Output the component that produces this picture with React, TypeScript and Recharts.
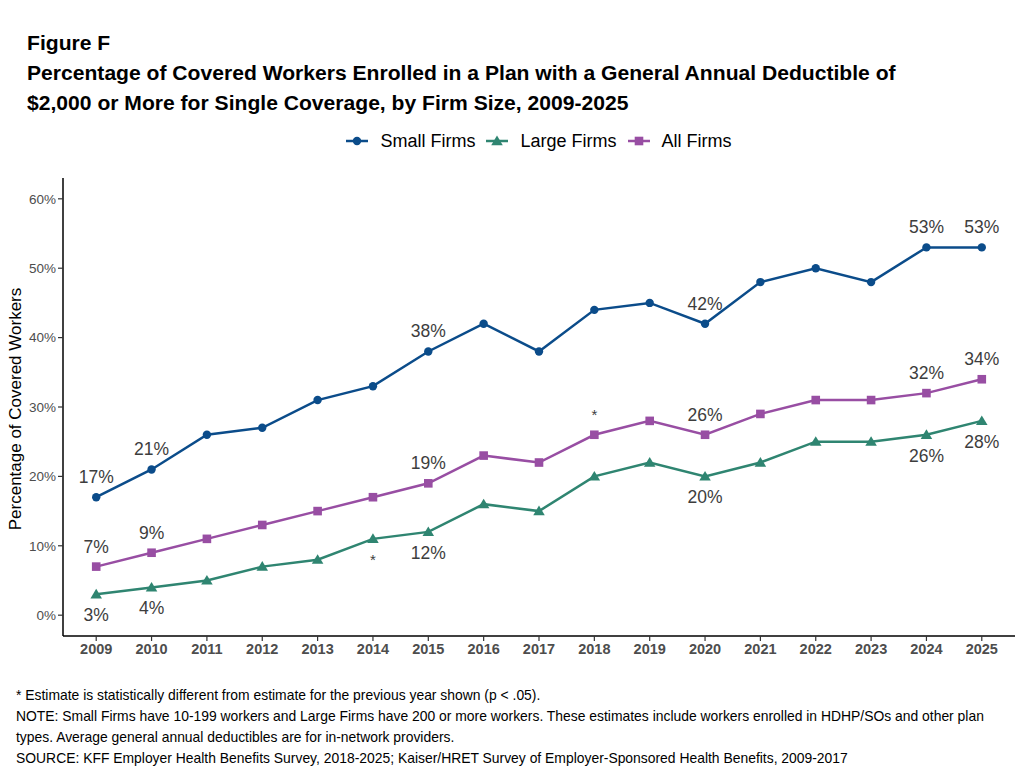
import React from "react";
import { LineChart, Line, XAxis, YAxis, LabelList } from "recharts";

const years = [2009, 2010, 2011, 2012, 2013, 2014, 2015, 2016, 2017, 2018, 2019, 2020, 2021, 2022, 2023, 2024, 2025];
const smallFirms = [17, 21, 26, 27, 31, 33, 38, 42, 38, 44, 45, 42, 48, 50, 48, 53, 53];
const largeFirms = [3, 4, 5, 7, 8, 11, 12, 16, 15, 20, 22, 20, 22, 25, 25, 26, 28];
const allFirms = [7, 9, 11, 13, 15, 17, 19, 23, 22, 26, 28, 26, 29, 31, 31, 32, 34];

const yTicks = [0, 10, 20, 30, 40, 50, 60];

const smallLabelYears = [2009, 2010, 2015, 2020, 2024, 2025];
const largeLabelYears = [2009, 2010, 2015, 2020, 2024, 2025];
const allLabelYears = [2009, 2010, 2015, 2020, 2024, 2025];
const largeStarYears = [2014];
const allStarYears = [2018];

const titleLines = [
  "Figure F",
  "Percentage of Covered Workers Enrolled in a Plan with a General Annual Deductible of",
  "$2,000 or More for Single Coverage, by Firm Size, 2009-2025",
];

const footLines = [
  "* Estimate is statistically different from estimate for the previous year shown (p < .05).",
  "NOTE: Small Firms have 10-199 workers and Large Firms have 200 or more workers. These estimates include workers enrolled in HDHP/SOs and other plan",
  "types. Average general annual deductibles are for in-network providers.",
  "SOURCE: KFF Employer Health Benefits Survey, 2018-2025; Kaiser/HRET Survey of Employer-Sponsored Health Benefits, 2009-2017",
];

const COLORS = { small: "#0b4c8a", large: "#2f8571", all: "#984ea3" };

const data = years.map((year, i) => ({
  year,
  small: smallFirms[i],
  large: largeFirms[i],
  all: allFirms[i],
}));

const series = [
  { key: "small", name: "Small Firms", color: COLORS.small, shape: "circle", labels: smallLabelYears, stars: [] as number[], pos: "above" },
  { key: "large", name: "Large Firms", color: COLORS.large, shape: "triangle", labels: largeLabelYears, stars: largeStarYears, pos: "below" },
  { key: "all", name: "All Firms", color: COLORS.all, shape: "square", labels: allLabelYears, stars: allStarYears, pos: "above" },
];

const FONT = "'Liberation Sans', Arial, sans-serif";

function Marker({ shape, cx, cy, color }: { shape: string; cx: number; cy: number; color: string }) {
  if (shape === "circle") return <circle cx={cx} cy={cy} r={4.2} fill={color} stroke="none" />;
  if (shape === "triangle") {
    const s = 5.5;
    return (
      <polygon
        points={`${cx},${cy - s} ${cx - s * 1.05},${cy + s * 0.75} ${cx + s * 1.05},${cy + s * 0.75}`}
        fill={color}
        stroke="none"
      />
    );
  }
  return <rect x={cx - 4.3} y={cy - 4.3} width={8.6} height={8.6} fill={color} stroke="none" />;
}

const makeDot = (shape: string, color: string) => (props: any) => {
  const { cx, cy, index } = props;
  if (cx == null || cy == null) return <g key={`d-${shape}-${index}`} />;
  return (
    <g key={`d-${shape}-${index}`}>
      <Marker shape={shape} cx={cx} cy={cy} color={color} />
    </g>
  );
};

const makeLabel = (labelYears: number[], starYears: number[], pos: string) => (props: any) => {
  const x = props.x ?? props.viewBox?.x;
  const y = props.y ?? props.viewBox?.y;
  const index = props.index;
  const value = props.value;
  const yr = years[index];
  const dy = pos === "above" ? -20 : 21;
  if (labelYears.includes(yr)) {
    return (
      <text
        key={`l-${index}`}
        x={x}
        y={y + dy}
        textAnchor="middle"
        dominantBaseline="central"
        fontSize={17.5}
        fontFamily={FONT}
        fill="#3d3d3d"
      >
        {`${value}%`}
      </text>
    );
  }
  if (starYears.includes(yr)) {
    return (
      <text
        key={`s-${index}`}
        x={x}
        y={y + dy}
        textAnchor="middle"
        dominantBaseline="central"
        fontSize={15}
        fontFamily={FONT}
        fill="#3d3d3d"
      >
        *
      </text>
    );
  }
  return <g key={`n-${index}`} />;
};

export default function App() {
  return (
    <div style={{ position: "absolute", left: 0, top: 0, width: 1023, height: 770, background: "#fff", fontFamily: FONT }}>
      {titleLines.map((t, i) => (
        <div
          key={i}
          style={{
            position: "absolute",
            left: 27,
            top: 28 + i * 30,
            height: 30,
            lineHeight: "30px",
            fontSize: 21.1,
            fontWeight: "bold",
            color: "#000",
            whiteSpace: "nowrap",
          }}
        >
          {t}
        </div>
      ))}

      <div
        style={{
          position: "absolute",
          left: 0,
          width: 1078,
          top: 128,
          height: 26,
          display: "flex",
          justifyContent: "center",
          alignItems: "center",
          fontSize: 18,
          color: "#000",
        }}
      >
        {series.map((s, i) => (
          <div key={s.key} style={{ display: "flex", alignItems: "center", marginLeft: i === 0 ? 0 : 11 }}>
            <svg width={22} height={14} style={{ display: "block" }}>
              <line x1={0} y1={7} x2={22} y2={7} stroke={s.color} strokeWidth={2.5} />
              <Marker shape={s.shape} cx={11} cy={7} color={s.color} />
            </svg>
            <span style={{ marginLeft: 12, whiteSpace: "nowrap" }}>{s.name}</span>
          </div>
        ))}
      </div>

      <div
        style={{
          position: "absolute",
          left: 16,
          top: 409,
          transform: "translate(-50%, -50%) rotate(-90deg)",
          fontSize: 17,
          color: "#000",
          whiteSpace: "nowrap",
        }}
      >
        Percentage of Covered Workers
      </div>

      <div style={{ position: "absolute", left: 0, top: 0 }}>
        <LineChart
          width={1023}
          height={770}
          data={data}
          margin={{ top: 178, right: 8, bottom: 104, left: 13 }}
        >
          <XAxis
            dataKey="year"
            type="number"
            domain={[2008.4, 2025.6]}
            ticks={years}
            interval={0}
            height={30}
            tickSize={5}
            tickMargin={3}
            axisLine={{ stroke: "#000", strokeWidth: 1.5 }}
            tickLine={{ stroke: "#333", strokeWidth: 1.2 }}
            tick={{ fontSize: 14.5, fontWeight: "bold", fill: "#4d4d4d", fontFamily: FONT }}
          />
          <YAxis
            type="number"
            domain={[-3, 63]}
            ticks={yTicks}
            interval={0}
            width={50}
            tickSize={5}
            tickMargin={2}
            tickFormatter={(v: number) => `${v}%`}
            axisLine={{ stroke: "#000", strokeWidth: 1.5 }}
            tickLine={{ stroke: "#333", strokeWidth: 1.2 }}
            tick={{ fontSize: 13.5, fill: "#4d4d4d", fontFamily: FONT }}
          />
          {series.map((s) => (
            <Line
              key={s.key}
              dataKey={s.key}
              name={s.name}
              stroke={s.color}
              strokeWidth={2.5}
              dot={makeDot(s.shape, s.color)}
              activeDot={false}
              isAnimationActive={false}
            >
              <LabelList dataKey={s.key} content={makeLabel(s.labels, s.stars, s.pos)} />
            </Line>
          ))}
        </LineChart>
      </div>

      {footLines.map((t, i) => (
        <div
          key={i}
          style={{
            position: "absolute",
            left: 16,
            top: 685 + i * 21,
            height: 21,
            lineHeight: "21px",
            fontSize: 13.9,
            fontFamily: FONT,
            color: "#000",
            whiteSpace: "nowrap",
          }}
        >
          {t}
        </div>
      ))}
    </div>
  );
}
